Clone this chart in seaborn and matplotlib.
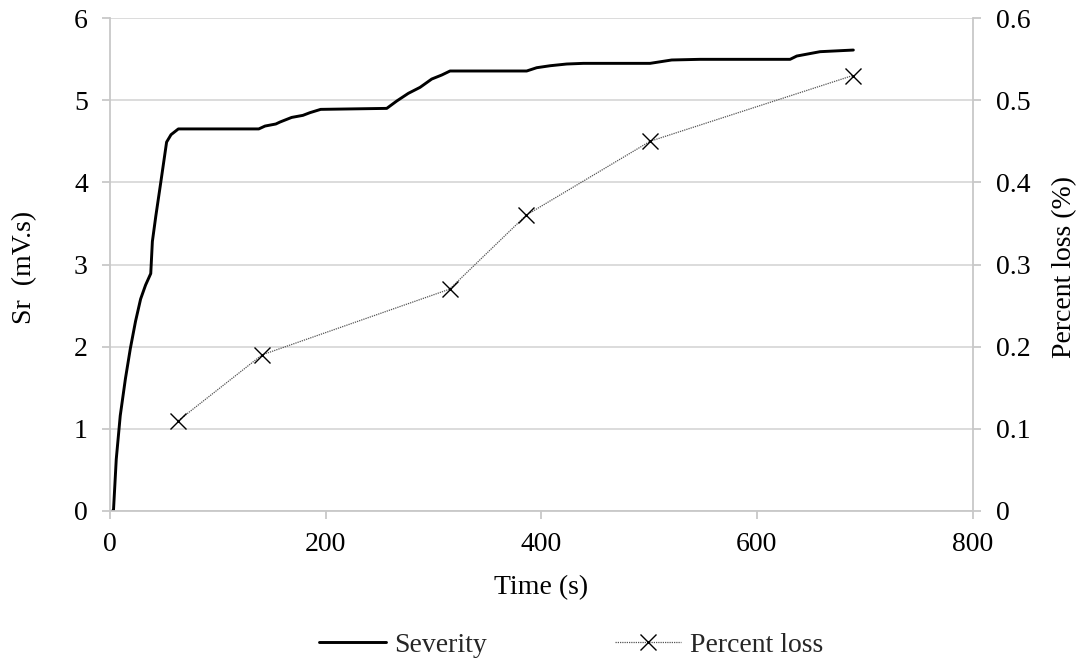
import matplotlib
matplotlib.use("Agg")
import matplotlib.pyplot as plt
import seaborn as sns
import numpy as np
import pandas as pd

# Severity curve (time in s, Sr in mV.s)
sev_time = [2.0, 3.2, 5.8, 9.5, 14.3, 18.9, 23.7, 28.4, 33.0, 37.8, 39.3, 42.5, 47.1, 52.5, 56.6, 63.4,
            138.0, 143.8, 153.8, 157.7, 168.5, 178.9, 185.5, 195.4, 256.7, 266.0, 276.7, 287.6,
            298.4, 307.7, 315.4, 386.5, 395.8, 408.2, 423.6, 439.1, 500.9, 521.0, 547.3, 630.8,
            637.0, 658.6, 689.5]
sev_value = [0, 0, 0.63, 1.16, 1.61, 1.98, 2.31, 2.58, 2.75, 2.89, 3.28, 3.59, 4.0, 4.49, 4.58, 4.65,
             4.65, 4.685, 4.71, 4.734, 4.79, 4.815, 4.848, 4.888, 4.90, 4.99, 5.083, 5.156,
             5.257, 5.306, 5.355, 5.355, 5.395, 5.419, 5.44, 5.448, 5.448, 5.489, 5.497, 5.497,
             5.537, 5.59, 5.61]

# Percent loss points
loss_time = [63.4, 141, 315, 386, 501, 689]
loss_value = [0.11, 0.19, 0.27, 0.36, 0.45, 0.53]

x_ticks = [0, 200, 400, 600, 800]
y_left_ticks = [0, 1, 2, 3, 4, 5, 6]
y_right_ticks = [0, 0.1, 0.2, 0.3, 0.4, 0.5, 0.6]
y_right_labels = ["0", "0.1", "0.2", "0.3", "0.4", "0.5", "0.6"]

sns.set_theme(style="white")
plt.rcParams['font.family'] = ['Liberation Serif', 'DejaVu Serif']
FS = 20
GRID = "#d9d9d9"
SPINE = "#c8c8c8"

fig = plt.figure(figsize=(10.81, 6.69), dpi=100)
ax = fig.add_axes([110/1081, 1-511/669, (972.5-110)/1081, (511-18)/669])
ax2 = ax.twinx()

sev_df = pd.DataFrame({"Time": sev_time, "Sr": sev_value})
loss_df = pd.DataFrame({"Time": loss_time, "Loss": loss_value})

sns.lineplot(data=sev_df, x="Time", y="Sr", ax=ax, color="black", lw=2.1,
             label="Severity", legend=False, sort=False)
sns.lineplot(data=loss_df, x="Time", y="Loss", ax=ax2, color="#555555", lw=0.9,
             linestyle=(0, (1, 0.8)), marker="x", markersize=11, markeredgewidth=1.0,
             markeredgecolor="black", label="Percent loss", legend=False, sort=False)

ax.set_xlim(0, 800)
ax.set_ylim(0, 6)
ax2.set_ylim(0, 0.6)
ax.set_xticks(x_ticks)
ax.set_yticks(y_left_ticks)
ax2.set_yticks(y_right_ticks)
ax2.set_yticklabels(y_right_labels)

ax.grid(False)
ax2.grid(False)
ax.yaxis.grid(True, color=GRID, lw=1.3)
ax.set_axisbelow(True)

for a in (ax, ax2):
    a.spines['top'].set_visible(False)
    for s in ('left', 'right', 'bottom'):
        a.spines[s].set_color(SPINE)
        a.spines[s].set_linewidth(1.3)
ax.spines['right'].set_visible(False)
ax2.spines['left'].set_visible(False)
ax2.spines['bottom'].set_visible(False)

ax.tick_params(axis='both', which='major', direction='out', length=6, width=1.3,
               color=SPINE, labelsize=FS, labelcolor='black', left=True, bottom=True)
ax.tick_params(axis='y', pad=10)
ax.tick_params(axis='x', pad=9)
ax2.tick_params(axis='y', direction='out', length=6, width=1.3, color=SPINE,
                labelsize=FS, labelcolor='black', right=True, pad=11)

ax.set_xlabel("Time (s)", fontsize=FS, color='black')
ax.xaxis.set_label_coords(0.5, (511-588)/493)
ax.xaxis.label.set_va('center')
ax.set_ylabel("Sr  (mV.s)", fontsize=FS, color='black', va='center', ha='center')
ax.yaxis.set_label_coords((25-110)/862.5, 0.495)
ax2.set_ylabel("Percent loss (%)", fontsize=FS, color='black', va='center', ha='center', rotation=90)
ax2.yaxis.set_label_coords((1065-110)/862.5, 0.495)

h1, l1 = ax.get_legend_handles_labels()
h2, l2 = ax2.get_legend_handles_labels()
fig.legend(h1 + h2, l1 + l2, loc='center', bbox_to_anchor=(571/1081, 1-645/669),
           ncol=2, frameon=False, fontsize=FS, handlelength=2.4, handletextpad=0.3,
           columnspacing=4.6)

fig.savefig("out.png", dpi=100, facecolor='white')
